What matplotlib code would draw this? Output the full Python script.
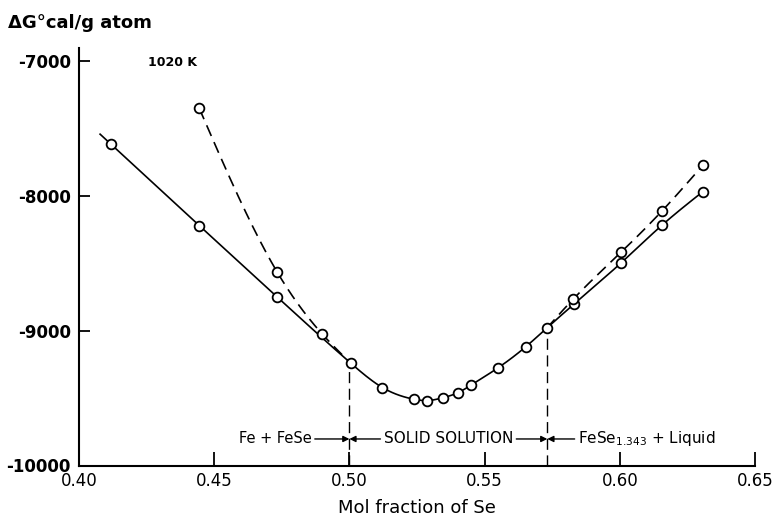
import numpy as np
import matplotlib
matplotlib.use("Agg")
import matplotlib.pyplot as plt

# Free energy of formation at 1020 K vs. mole fraction of Se
x_solid = [0.4117, 0.4445, 0.4733, 0.5005, 0.5122, 0.5239, 0.5288, 0.5347,
           0.5402, 0.5449, 0.5551, 0.5653, 0.5730, 0.5832, 0.6004, 0.6157, 0.6307]
g_solid = [-7612, -8219, -8749, -9240, -9421, -9508, -9518, -9496,
           -9459, -9404, -9273, -9117, -8980, -8799, -8497, -8214, -7967]

x_dash_left = [0.4445, 0.4733, 0.4900]
g_dash_left = [-7349, -8564, -9025]
x_dash_right = [0.5828, 0.6004, 0.6157, 0.6307]
g_dash_right = [-8764, -8418, -8108, -7771]

# phase boundaries
x_fe_fese = 0.50
x_fese1343 = 1.343 / 2.343

xticks = [0.40, 0.45, 0.50, 0.55, 0.60, 0.65]
yticks = [-10000, -9000, -8000, -7000]


def natural_spline(xs, ys, n=300):
    xs = np.asarray(xs, float)
    ys = np.asarray(ys, float)
    k = len(xs)
    h = np.diff(xs)
    A = np.zeros((k, k))
    b = np.zeros(k)
    A[0, 0] = A[-1, -1] = 1.0
    for i in range(1, k - 1):
        A[i, i - 1] = h[i - 1]
        A[i, i] = 2 * (h[i - 1] + h[i])
        A[i, i + 1] = h[i]
        b[i] = 6 * ((ys[i + 1] - ys[i]) / h[i] - (ys[i] - ys[i - 1]) / h[i - 1])
    M = np.linalg.solve(A, b)
    xx = np.linspace(xs[0], xs[-1], n)
    idx = np.clip(np.searchsorted(xs, xx) - 1, 0, k - 2)
    x0, x1 = xs[idx], xs[idx + 1]
    y0, y1 = ys[idx], ys[idx + 1]
    m0, m1 = M[idx], M[idx + 1]
    hh = x1 - x0
    t0 = x1 - xx
    t1 = xx - x0
    yy = (m0 * t0 ** 3 + m1 * t1 ** 3) / (6 * hh) + (y0 / hh - m0 * hh / 6) * t0 + (y1 / hh - m1 * hh / 6) * t1
    return xx, yy


fig = plt.figure(figsize=(7.75, 5.26), dpi=100)
ax = fig.add_axes([79 / 775, 1 - 465.5 / 526, (755 - 79) / 775, (465.5 - 48) / 526])

lw = 1.2
# solid curve, with a short straight lead-in on the left
sx, sy = natural_spline(x_solid, g_solid)
x_start = 0.4078
slope = (g_solid[1] - g_solid[0]) / (x_solid[1] - x_solid[0])
lead_x = [x_start, x_solid[0]]
lead_y = [g_solid[0] + slope * (x_start - x_solid[0]), g_solid[0]]
ax.plot(lead_x, lead_y, color="black", lw=lw, zorder=2)
ax.plot(sx, sy, color="black", lw=lw, zorder=2)

# dashed branches join the solid curve at the phase boundaries
i_left = int(np.argmin(np.abs(np.array(x_solid) - x_fe_fese)))
i_right = int(np.argmin(np.abs(np.array(x_solid) - x_fese1343)))
dlx, dly = natural_spline(x_dash_left + [x_solid[i_left]], g_dash_left + [g_solid[i_left]])
drx, dry = natural_spline([x_solid[i_right]] + x_dash_right, [g_solid[i_right]] + g_dash_right)
for xx, yy in ((dlx, dly), (drx, dry)):
    ax.plot(xx, yy, color="black", lw=lw, ls=(0, (7, 4)), zorder=2)

mk = dict(ls="none", marker="o", ms=7, mfc="white", mec="black", mew=1.3, zorder=3)
ax.plot(x_solid, g_solid, **mk)
ax.plot(x_dash_left, g_dash_left, **mk)
ax.plot(x_dash_right, g_dash_right, **mk)

# vertical boundary lines
for xb, ib in ((x_fe_fese, i_left), (x_fese1343, i_right)):
    ax.plot([xb, xb], [yticks[0], g_solid[ib]], color="black",
            lw=1.0, ls=(0, (8, 4)), zorder=1)

ax.set_xlim(0.40, 0.65)
ax.set_ylim(-10000, -6900)
ax.set_xticks(xticks)
ax.set_xticklabels([f"{v:.2f}" for v in xticks])
ax.set_yticks(yticks)
ax.set_yticklabels([str(v) for v in yticks])
ax.tick_params(axis="x", direction="in", length=10, width=1.3, labelsize=12, pad=5)
ax.tick_params(axis="y", direction="in", length=8, width=1.3, labelsize=12, pad=6)
for lab in ax.get_yticklabels():
    lab.set_fontweight("bold")
ax.spines["top"].set_visible(False)
ax.spines["right"].set_visible(False)
ax.spines["left"].set_linewidth(1.5)
ax.spines["bottom"].set_linewidth(1.5)
ax.set_xlabel("Mol fraction of Se", fontsize=13, labelpad=6)

fig.text(8 / 775, 1 - 23 / 526, "ΔG°cal/g atom", fontsize=13, fontweight="bold",
         ha="left", va="center")
fig.text(148 / 775, 1 - 62 / 526, "1020 K", fontsize=9, fontweight="bold",
         ha="left", va="center")

# phase-region labels with arrows pointing at the boundaries
y_row = -9803
t1 = ax.text(0.4860, y_row, "Fe + FeSe", fontsize=10.5, ha="right", va="center")
t2 = ax.text(0.5366, y_row, "SOLID SOLUTION", fontsize=11,
             ha="center", va="center")
t3 = ax.text(0.5845, y_row, r"FeSe$_{1.343}$ + Liquid", fontsize=11, ha="left", va="center")
fig.canvas.draw()
r = fig.canvas.get_renderer()
inv = ax.transData.inverted()


def edges(t):
    bb = t.get_window_extent(r)
    return inv.transform((bb.x0, 0))[0], inv.transform((bb.x1, 0))[0]


gap = 0.0012
arrow = dict(arrowstyle="-|>", color="black", lw=1.0, mutation_scale=9, shrinkA=0, shrinkB=0)
for tail, tip in ((edges(t1)[1] + gap, x_fe_fese),
                  (edges(t2)[0] - gap, x_fe_fese),
                  (edges(t2)[1] + gap, x_fese1343),
                  (edges(t3)[0] - gap, x_fese1343)):
    ax.annotate("", xy=(tip, y_row), xytext=(tail, y_row), arrowprops=arrow)

fig.savefig("out.png", dpi=100)
